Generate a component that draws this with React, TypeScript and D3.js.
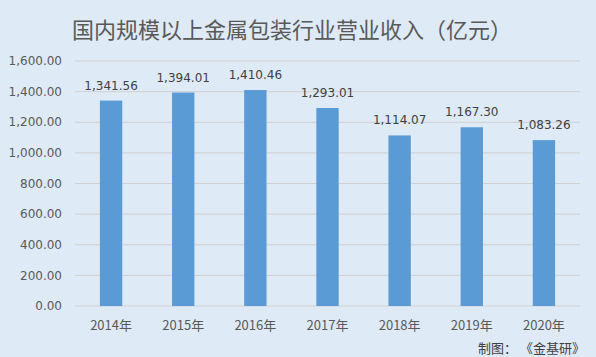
import React from "react";
import * as d3 from "d3";

const categories = ["2014年", "2015年", "2016年", "2017年", "2018年", "2019年", "2020年"];
const values = [1341.56, 1394.01, 1410.46, 1293.01, 1114.07, 1167.3, 1083.26];
const yTicks = [0, 200, 400, 600, 800, 1000, 1200, 1400, 1600];
const title = "国内规模以上金属包装行业营业收入（亿元）";
const source = "制图： 《金基研》";

export default function App() {
  const W = 596, H = 357;
  const left = 75, right = 580, top = 61, bottom = 306;
  const x = d3.scaleBand().domain(categories).range([left, right]).paddingInner(0.69).paddingOuter(0.345);
  const y = d3.scaleLinear().domain([0, 1600]).range([bottom, top]);
  const fmt = d3.format(",.2f");
  const numFont = "'DejaVu Sans', Verdana, sans-serif";
  const cjk = "'Noto Sans CJK SC', sans-serif";
  return (
    <svg width={W} height={H} style={{ position: "absolute", left: 0, top: 0 }}>
      <rect x={0} y={0} width={W} height={H} fill="#DEEAF6" />
      <text x={292} y={30} dy="0.35em" textAnchor="middle" fontFamily={cjk} fontSize={22} fill="#595959">{title}</text>
      {yTicks.map((t) => (
        <g key={t}>
          <line x1={left} x2={right} y1={y(t)} y2={y(t)} stroke="#D0D0D0" strokeWidth={1} />
          <text x={62} y={y(t)} dy="0.35em" textAnchor="end" fontFamily={numFont} fontSize={12} fill="#595959">{fmt(t)}</text>
        </g>
      ))}
      {categories.map((c, i) => (
        <g key={c}>
          <rect x={x(c)} y={y(values[i])} width={x.bandwidth()} height={bottom - y(values[i])} fill="#5B9BD5" />
          <text x={(x(c) as number) + x.bandwidth() / 2} y={y(values[i]) - 11} textAnchor="middle" fontFamily={numFont} fontSize={12} fill="#404040">{fmt(values[i])}</text>
          <text x={(x(c) as number) + x.bandwidth() / 2} y={325.5} dy="0.35em" textAnchor="middle" fontFamily={cjk} fontSize={13} fill="#595959">{c}</text>
        </g>
      ))}
      <text x={585} y={348} dy="0.35em" textAnchor="end" fontFamily={cjk} fontSize={13} fill="#404040" style={{ whiteSpace: "pre" }}>{source}</text>
    </svg>
  );
}
